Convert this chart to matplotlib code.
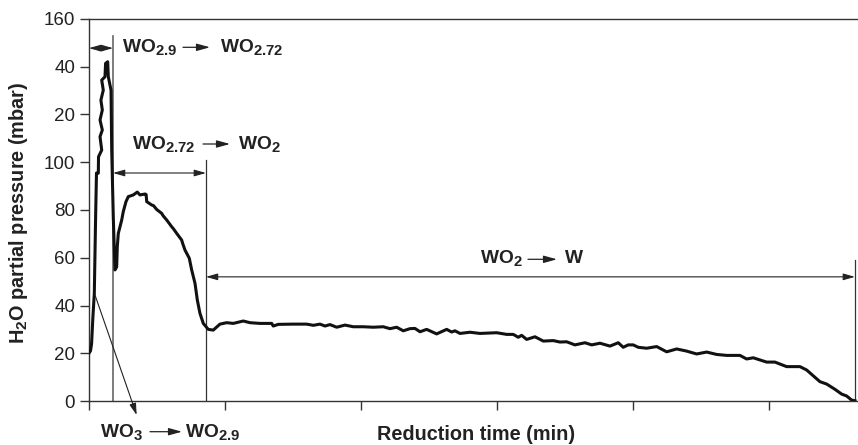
import matplotlib
matplotlib.use("Agg")
import matplotlib.pyplot as plt
try:
    import matplotlib._mathtext as _mt
    _mt.SHRINK_FACTOR = 0.78
except Exception:
    pass

plt.rcParams['font.family'] = ['Liberation Sans', 'DejaVu Sans']
plt.rcParams['mathtext.fontset'] = 'custom'
plt.rcParams['mathtext.rm'] = 'Liberation Sans:bold'
plt.rcParams['mathtext.bf'] = 'Liberation Sans:bold'
plt.rcParams['mathtext.it'] = 'Liberation Sans:bold'
plt.rcParams['mathtext.default'] = 'bf'

# Reduction time (min) and H2O partial pressure (axis units, mbar)
time_min = [0.04, 0.22, 0.38, 0.57, 0.78, 0.96, 1.10, 1.37, 1.40, 1.87, 1.62, 1.96, 1.62, 1.96,
            1.75, 2.10, 1.87, 2.35, 2.44, 2.75, 2.84, 3.24, 3.34, 3.57, 3.72, 3.82, 4.07, 4.16,
            4.31, 4.56, 4.81, 5.04, 5.44, 5.78, 6.51, 7.10, 7.50, 8.24, 8.40, 8.49, 9.22, 9.50,
            9.96, 10.69, 10.90, 11.43, 12.16, 12.40, 12.90, 13.63, 13.80, 14.12, 14.75, 15.10,
            15.59, 15.93, 16.32, 16.81, 17.54,
            18.28, 19.26, 20.25, 21.22, 22.69, 23.68, 25.15, 26.87, 27.10, 27.84, 30.04, 32.01,
            32.99, 33.97, 34.71, 35.44, 36.43, 37.65, 38.87, 40.34, 41.81, 43.28, 44.26, 45.25,
            46.22, 47.21, 47.94, 48.68, 49.66, 51.13, 52.60, 53.34, 53.82, 54.56, 56.03, 57.50,
            59.96, 61.43, 62.40, 63.13, 63.63, 64.37, 65.59, 66.81, 68.28, 69.26, 70.25, 71.47,
            72.94, 73.93, 75.15, 76.62, 77.84, 78.57, 79.31, 80.04, 80.78, 82.01, 83.49, 84.96,
            86.43, 87.90, 89.37, 90.84, 92.31, 93.78, 95.74, 96.72, 97.69, 99.66, 100.88, 102.6,
            104.56, 105.54, 107.5, 108.49, 109.71, 110.69, 111.43, 112.16, 112.65]
pressure = [20.2, 21, 24, 35, 45, 75, 95.5, 95.4, 102.3, 105.1, 110.7, 113.5, 117.7, 121.9,
            126, 130.2, 134.4, 135.8, 141.4, 142.1, 135.8, 130.2, 105.1, 77.2, 63.2, 54.9, 56.2, 64.6,
            70.2, 73, 75.8, 79.3, 83.5, 85.6, 86.3, 87.5, 86.3, 86.7, 86.5, 83.5, 82.1, 81.8,
            80.2, 78.6, 77.6, 75.8, 73, 72.2, 70.2, 67.4, 65.8, 63.2, 59.8, 54.9,
            49.3, 42.3, 36.7, 32.5, 30,
            29.7, 32.2, 32.8, 32.5, 33.5, 32.8, 32.5, 32.5, 31.4, 32.1, 32.2, 32.2,
            31.7, 32.2, 31.4, 32, 30.9, 31.8, 31.1, 31.1, 30.9, 31.1, 30.3, 30.9,
            29.4, 30.3, 30.4, 29, 30, 28.1, 30, 28.9, 29.4, 28.3, 28.8, 28.3,
            28.6, 27.9, 27.9, 26.7, 27.5, 25.8, 26.9, 25.1, 25.3, 24.7, 24.8, 23.5,
            24.4, 23.5, 24.2, 23, 24.4, 22.5, 23.5, 23.5, 22.5, 22.1, 22.8, 20.6,
            21.8, 20.9, 19.7, 20.5, 19.5, 19.1, 19.1, 17.6, 18.1, 16.3, 16.3, 14.4,
            14.4, 13, 8.1, 7.1, 4.9, 2.9, 2.1, 0.4, 0.1]

y_ticks = [0, 20, 40, 60, 80, 100, 120, 140, 160]
y_tick_labels = ['0', '20', '40', '60', '80', '100', '20', '40', '160']
x_ticks = [0, 20, 40, 60, 80, 100]

# stage boundaries (min)
boundaries = [3.53, 17.2, 112.65]
boundary_tops = [153, 100.9, 59]
stage_from = ['WO$_{2.9}$', 'WO$_{2.72}$', 'WO$_2$', 'WO$_3$']
stage_to = ['WO$_{2.72}$', 'WO$_2$', 'W', 'WO$_{2.9}$']

W, H = 858, 445
fig = plt.figure(figsize=(W / 100, H / 100), dpi=100)
ax = fig.add_axes([89 / W, 44 / H, 1 - 89 / W, 382 / H])

ax.plot(time_min, pressure, color='#111111', lw=2.2, solid_joinstyle='round', zorder=3)

ax.set_xlim(0, 113.1)
ax.set_ylim(0, 160)
ax.set_yticks(y_ticks)
ax.set_yticklabels(y_tick_labels, fontsize=13.5, color='#222222')
ax.set_xticks(x_ticks)
ax.set_xticklabels([])
ax.tick_params(axis='both', direction='out', length=6.5, width=1, color='#333333')
for s in ['left', 'bottom', 'top']:
    ax.spines[s].set_color('#333333')
    ax.spines[s].set_linewidth(1)
ax.spines['right'].set_visible(False)

# vertical boundary lines
ax.plot([boundaries[0]] * 2, [0, boundary_tops[0]], color='#666666', lw=1.2, zorder=2)
ax.plot([boundaries[1]] * 2, [0, boundary_tops[1]], color='#333333', lw=0.9, zorder=2)
ax.plot([boundaries[2]] * 2, [0, boundary_tops[2]], color='#333333', lw=0.9, zorder=2)

arrow_kw = dict(arrowstyle='<|-|>,head_length=0.7,head_width=0.2', color='#222222',
                lw=0.8, shrinkA=0, shrinkB=0, mutation_scale=10)
ax.annotate('', xy=(boundaries[0], 147.8), xytext=(0, 147.8), arrowprops=arrow_kw)
ax.annotate('', xy=(boundaries[1], 95.5), xytext=(boundaries[0], 95.5), arrowprops=arrow_kw)
ax.annotate('', xy=(boundaries[2], 52), xytext=(boundaries[1], 52), arrowprops=arrow_kw)
ax.annotate('', xy=(7.01, -5.9), xytext=(0.88, 44.4), annotation_clip=False,
            arrowprops=dict(arrowstyle='-|>,head_length=0.7,head_width=0.2', color='#222222',
                            lw=0.8, shrinkA=0, shrinkB=0, mutation_scale=10))

# stage labels: (left x px, baseline y px, arrow x0, arrow x1, arrow y, right text x)
label_layout = [(122, 52.3, 183, 210, 47.3, 220),
                (132.5, 149, 203, 230, 144, 238),
                (480, 263.3, 528, 557, 259.3, 565),
                (100, 437.3, 150, 182, 431.7, 185)]


def fx(px):
    return px / W


def fy(py):
    return 1 - py / H


tk = dict(fontsize=13.8, fontweight='bold', color='#222222', va='baseline', ha='left')
for (lx, by, a0, a1, ay, rx), s0, s1 in zip(label_layout, stage_from, stage_to):
    fig.text(fx(lx), fy(by), s0, **tk)
    fig.text(fx(rx), fy(by), s1, **tk)
    ax.annotate('', xy=(fx(a1), fy(ay)), xytext=(fx(a0), fy(ay)), xycoords='figure fraction',
                textcoords='figure fraction', annotation_clip=False,
                arrowprops=dict(arrowstyle='-|>,head_length=0.8,head_width=0.22', color='#222222',
                                lw=0.9, shrinkA=0, shrinkB=0, mutation_scale=10))

fig.text(fx(376.7), fy(440), 'Reduction time (min)', fontsize=14.3, fontweight='bold',
         color='#222222', ha='left', va='baseline')
fig.text(fx(19), 0.522, 'H$_2$O partial pressure (mbar)', fontsize=14.3, fontweight='bold',
         color='#222222', ha='center', va='center', rotation=90)

fig.savefig('out.png', dpi=100)
